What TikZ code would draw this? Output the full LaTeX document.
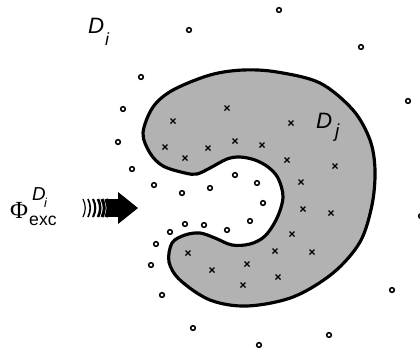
\documentclass[tikz,border=0pt]{standalone}
\usepackage{fontspec}
\setmainfont{Liberation Sans}
\newfontfamily\serifphi{Liberation Serif}
\tikzset{
  lbl/.style={inner sep=0pt, anchor=base west},
  dot/.style={draw=black, line width=1.3pt},
  crossmark/.style={draw=black, line width=1.1pt},
  region/.style={draw=black, fill=black!30, line width=2.7pt},
}
\begin{document}
\begin{tikzpicture}[x=0.03cm, y=-0.03cm]
\useasboundingbox (0,0) rectangle (420,351);
% region D_j
\draw[region] plot[smooth cycle, tension=0.55] coordinates {
 (143,133) (153,107) (173,90) (210,75) (243,70) (277,72) (320,83) (353,110)
 (370,140) (375,170) (372,205) (360,242) (333,273) (293,297) (247,306)
 (210,300) (180,280) (169,262) (172,243) (185,235) (200,233) (215,238)
 (232,245) (250,244) (265,236) (277,218) (283,197) (278,178) (268,167)
 (255,160) (240,157) (227,159) (210,168) (197,174) (185,173) (163,166)
 (150,153)};
% crosses
\foreach \x/\y in {227/108,173/121,165/147,185/158,208/148,235/141,262/145,
  291/123,287/160,335/166,301/182,303/209,331/213,292/234,275/251,312/252,
  278/277,247/264,212/270,243/285,188/253}
  {\draw[crossmark] (\x-2.5,\y-2.5) -- (\x+2.5,\y+2.5) (\x-2.5,\y+2.5) -- (\x+2.5,\y-2.5);}
% circles
\foreach \x/\y in {189/30,279/10,361/47,408/101,141/77,123/109,118/142,132/169,
  154/185,182/193,210/188,235/175,257/183,263/203,250/221,227/230,204/225,
  185/224,170/232,156/244,151/265,162/295,193/328,259/345,329/335,392/290,421/216}
  {\draw[dot] (\x,\y) circle[radius=2pt];}
% labels
\node[lbl, font=\fontsize{19}{19}\selectfont\itshape] (Di) at (88,33) {D};
\node[lbl, font=\fontsize{15}{15}\selectfont\itshape] (Disub) at (105,45) {i};
\node[lbl, font=\fontsize{19}{19}\selectfont\itshape] (Dj) at (316,128) {D};
\node[lbl, font=\fontsize{16}{16}\selectfont\itshape] (Djsub) at (335,137) {j};
\node[lbl, font=\fontsize{21}{21}\selectfont\serifphi] (Phi) at (10,218) {Φ};
\node[lbl, font=\fontsize{16}{16}\selectfont\itshape] (PhiD) at (32,200) {D};
\node[lbl, font=\fontsize{11}{11}\selectfont\itshape] (PhiDi) at (44,207) {i};
\node[lbl, font=\fontsize{15}{15}\selectfont] (exc) at (29,225) {exc};
% striped arrow
\coordinate (tip) at (138,208);
\foreach \x/\w in {83/1.0,88/1.4,93/1.8,98/2.2,102/2.6,106/3.0}
  {\draw[line width=\w pt] (\x,199) .. controls (\x+3,205) and (\x+3,211) .. (\x,217);}
\fill (108,199) rectangle (119,217);
\fill (118,192) -- (tip) -- (118,224) -- cycle;
\end{tikzpicture}
\end{document}
